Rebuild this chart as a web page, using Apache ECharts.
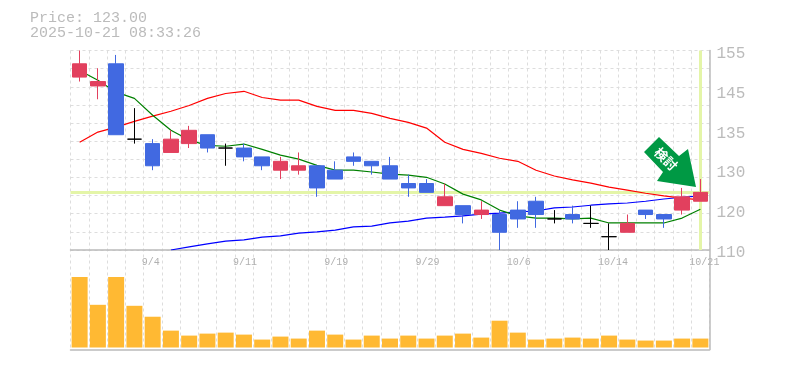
<!DOCTYPE html>
<html><head><meta charset="utf-8">
<style>html,body{margin:0;padding:0;background:#fff}#c{width:785px;height:370px}</style>
<script src="https://cdn.jsdelivr.net/npm/echarts@6/dist/echarts.min.js"></script>
</head><body><div id="c"></div>
<script>
const categories = ['8/29','9/1','9/2','9/3','9/4','9/5','9/8','9/9','9/10','9/11','9/12','9/16','9/17','9/18','9/19','9/22','9/24','9/25','9/26','9/29','9/30','10/1','10/2','10/3','10/6','10/7','10/8','10/9','10/10','10/14','10/15','10/16','10/17','10/20','10/21'];
const dateTickLabels = ['9/4','9/11','9/19','9/29','10/6','10/14','10/21'];
const opens  = [149,147,152,135,134,132,134,136,133,133,131,128,128,129,128,131,130,129,125,125,120,120,118,118,119,121,117,118,116,113,114,119,118,119,121];
const closes = [152,148,136,135,129,135,137,133,133,131,129,130,129,124,126,130,129,126,124,123,122,118,119,114,117,118,117,117,116,113,116,118,117,122,123];
const lows   = [148,144,136,134,128,132,133,132,129,130,128,126,127,122,126,129,127,126,122,123,120,116,117,110,115,115,116,116,115,110,114,117,115,118,121];
const highs  = [155,151,154,142,135,137,138,136,134,134,131,131,132,129,130,132,130,131,127,126,125,120,121,119,121,122,119,120,120,116,118,119,118,124,126];
const maShort = [150.5,148.3,145.6,144.2,140.4,137,134.8,133.6,133.4,133.9,132.7,131.4,130.5,129.1,128,128,127.6,127.1,126.9,126.4,124.9,122.6,121.3,119,117.7,117.2,117.2,117,117.2,116.1,116.1,116.1,116.1,117.2,119.2];
const maMid = [134.3,136.6,137.7,139,140.2,141.3,142.6,144.2,145.3,145.8,144.4,143.8,143.8,142.4,141.5,141.5,140.8,139.7,138.8,137.5,134.3,132.7,131.8,130.7,130,128,126.7,125.8,125.1,124.2,123.5,122.8,122.2,121.7,121.3];
const maLong = [null,null,null,null,null,110,110.7,111.4,112,112.3,112.9,113.2,113.8,114.1,114.5,115.2,115.4,116.1,116.5,117.2,117.4,117.7,118.1,118.3,118.6,118.8,119.5,119.7,120.1,120.4,120.6,121,121.5,121.9,122.2];
const volumes = [71,43,71,42,31,17,12,14,15,13,8,11,9,17,13,8,12,9,12,9,12,14,10,27,15,8,9,10,9,12,8,7,7,9,9];
const priceTickValues = [110,119,128,137,146,155];
const priceTickLabels = ['110','120','130','135','145','155'];
const currentPrice = 123;
const titleLines = ['Price: 123.00','2025-10-21 08:33:26'];
const arrowLabel = '検討';

const mono = '"Liberation Mono","DejaVu Sans Mono",monospace';
const candles = categories.map((_, i) => [opens[i], closes[i], lows[i], highs[i]]);
const dash = {color:'#ddd', width:1, type:[3,3]};
const chart = echarts.init(document.getElementById('c'), null, {renderer:'canvas'});
chart.setOption({
  animation:false,
  backgroundColor:'#fff',
  grid:[
    {left:70.5, right:75.5, top:50.5, height:199.5},
    {left:70.5, right:75.5, top:277, height:72.5},
    {left:70.5, right:75.5, top:50.5, height:299}
  ],
  xAxis:[
    {type:'category', gridIndex:0, data:categories, boundaryGap:true,
     axisLine:{show:true, onZero:false, lineStyle:{color:'#bbb', width:1.5}}, axisTick:{show:false},
     splitLine:{show:false},
     axisLabel:{show:true, interval:0, margin:5, hideOverlap:false, showMinLabel:true, showMaxLabel:true, color:'#b0b0b0', fontFamily:mono, fontSize:10, lineHeight:14,
       align:'left', padding:[0,0,0,-11],
       formatter:v => dateTickLabels.includes(v) ? v : ''}},
    {type:'category', gridIndex:1, data:categories,
     axisLine:{show:true, onZero:false, lineStyle:{color:'#bbb', width:1.5}}, axisTick:{show:false},
     axisLabel:{show:false}, splitLine:{show:false}},
    {type:'category', gridIndex:2, data:categories, z:0,
     axisLine:{show:false}, axisTick:{show:false}, axisLabel:{show:false},
     splitLine:{show:true, interval:0, lineStyle:dash}}
  ],
  yAxis:[
    {type:'value', gridIndex:0, min:110, max:155, position:'right',
     axisLine:{show:false}, axisTick:{show:false}, splitLine:{show:false},
     axisLabel:{show:true, customValues:priceTickValues, margin:7, color:'#bbb', fontFamily:mono, fontSize:16,
       verticalAlign:'top', padding:[-5,0,0,0],
       formatter:v => priceTickLabels[priceTickValues.indexOf(v)]}},
    {type:'value', gridIndex:1, min:-2, max:71, show:false, splitLine:{show:false}},
    {type:'value', gridIndex:2, min:0, max:299, position:'right', show:true,
     axisLine:{show:true, lineStyle:{color:'#bbb', width:1.5}}, axisTick:{show:false}, axisLabel:{show:false},
     splitLine:{show:false}},
    {type:'value', gridIndex:0, min:0, max:11, interval:1, position:'left', z:0,
     axisLine:{show:false}, axisTick:{show:false}, axisLabel:{show:false},
     splitLine:{show:true, lineStyle:dash}}
  ],
  graphic:[
    {type:'text', left:30, top:11, z:10, style:{text:titleLines[0], fill:'#bbb', font:'15px '+mono}},
    {type:'text', left:30, top:26, z:10, style:{text:titleLines[1], fill:'#bbb', font:'15px '+mono}},
    {type:'polygon', z:20, shape:{points:[[659,137],[644,152],[663,172],[657,181],[696,187],[688,149],[679,156]]}, style:{fill:'#009944'}},
    {type:'text', z:21, x:666, y:159, rotation:-Math.PI/4, style:{text:arrowLabel, fill:'#fff', font:'bold 13px "Noto Sans CJK JP"', align:'center', verticalAlign:'middle'}}
  ],
  series:[
    {type:'line', name:'guides', xAxisIndex:0, yAxisIndex:0, data:[], z:1, silent:true,
     markLine:{silent:true, z:1, symbol:'none', label:{show:false}, animation:false,
       lineStyle:{color:'#e4f5a8', width:3, type:'solid'},
       data:[{yAxis:currentPrice},{xAxis:categories[categories.length-1]}]}},
    {type:'line', name:'long', data:maLong, xAxisIndex:0, yAxisIndex:0, symbol:'none', z:2, lineStyle:{color:'#0000ff', width:1.2}},
    {type:'line', name:'mid', data:maMid, xAxisIndex:0, yAxisIndex:0, symbol:'none', z:2, lineStyle:{color:'#ff0000', width:1.2}},
    {type:'line', name:'short', data:maShort, xAxisIndex:0, yAxisIndex:0, symbol:'none', z:2, lineStyle:{color:'#008000', width:1.2}},
    {type:'candlestick', name:'price', data:candles, xAxisIndex:0, yAxisIndex:0, barWidth:15, z:3, clip:true,
     itemStyle:{color:'#e2405e', color0:'#4169e1', borderColor:'#e2405e', borderColor0:'#4169e1', borderColorDoji:'#000', borderWidth:1}},
    {type:'bar', name:'volume', data:volumes, xAxisIndex:1, yAxisIndex:1, barWidth:16,
     itemStyle:{color:'#ffb933'}}
  ]
});
</script></body></html>
